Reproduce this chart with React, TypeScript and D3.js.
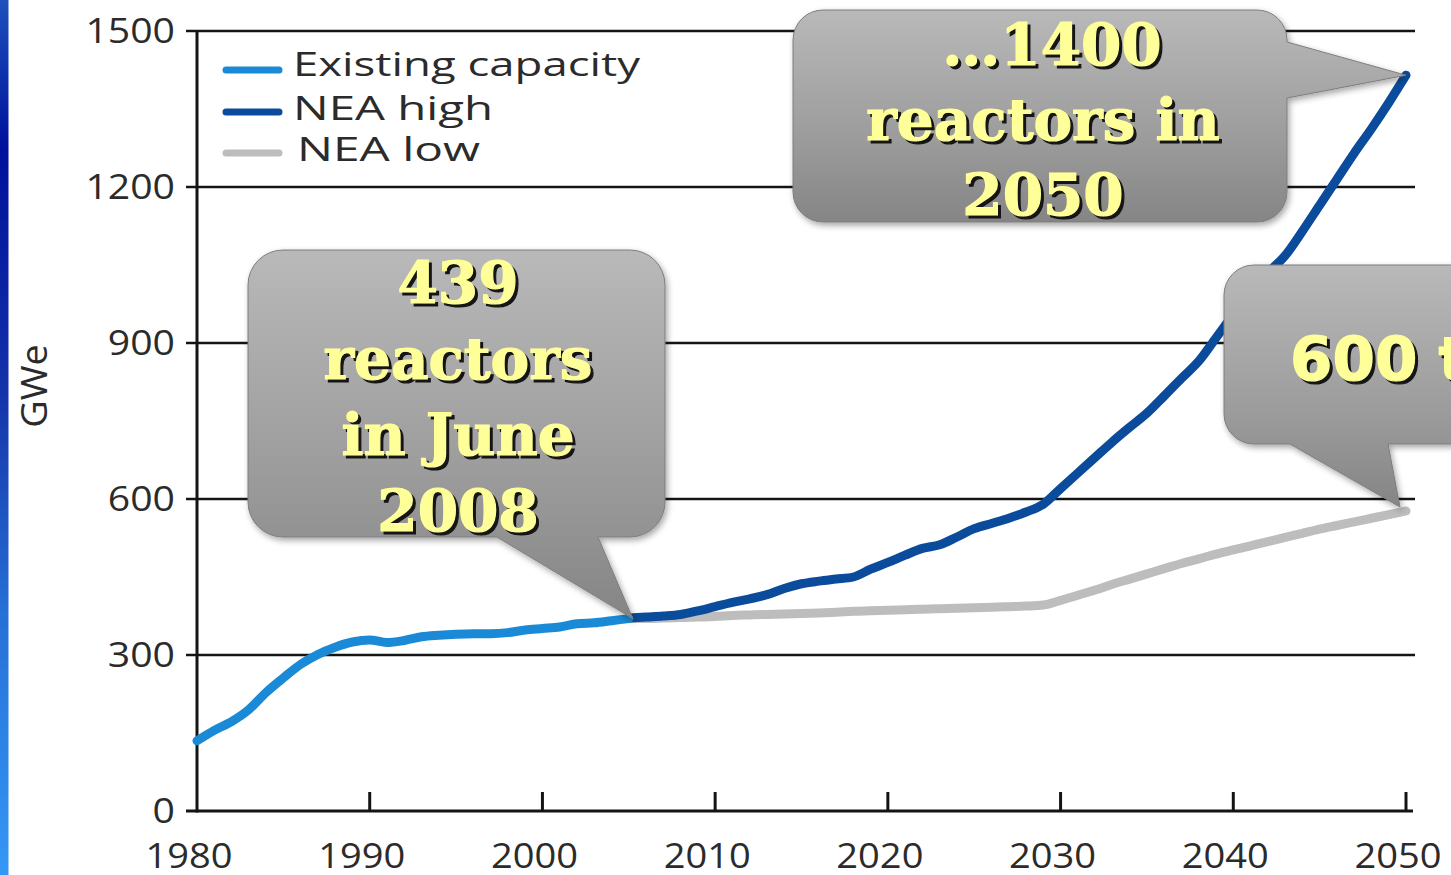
import React from 'react';
import * as d3 from 'd3';

const existingYears = [1980,1981,1982,1983,1984,1985,1986,1987,1988,1989,1990,1991,1992,1993,1994,1995,1996,1997,1998,1999,2000,2001,2002,2003,2004,2005];
const existingValues = [135,155,172,195,228,256,282,301,315,325,329,324,328,335,338,340,341,341,343,348,351,354,360,362,366,370];

const projYears = [2005,2006,2007,2008,2009,2010,2011,2012,2013,2014,2015,2016,2017,2018,2019,2020,2021,2022,2023,2024,2025,2026,2027,2028,2029,2030,2031,2032,2033,2034,2035,2036,2037,2038,2039,2040,2041,2042,2043,2044,2045,2046,2047,2048,2049,2050];
const neaHighValues = [371,373,375,378,385,393,401,408,416,428,437,442,446,450,465,478,492,505,512,527,543,553,563,575,590,620,650,680,710,738,765,798,832,865,910,955,1000,1035,1068,1115,1165,1215,1265,1312,1362,1415];
const neaLowValues = [370,370,371,372,373,374,376,377,378,379,380,381,382,384,385,386,387,388,389,390,391,392,393,394,396,405,415,425,436,446,456,466,476,485,494,502,510,518,526,534,542,549,556,563,570,577];

const xTickValues = [1980,1990,2000,2010,2020,2030,2040,2050];
const yTickValues = [0,300,600,900,1200,1500];
const legendNames = ['Existing capacity','NEA high','NEA low'];
const yAxisTitle = 'GWe';
const callout1Lines = ['439','reactors','in June','2008'];
const callout2Lines = ['\u20261400','reactors in','2050'];
const callout3Lines = ['600 to 1400'];

const COLORS = { existing: '#1b8ad6', high: '#0a4b9b', low: '#bdbdbd' };

function calloutPath(x0: number, y0: number, x1: number, y1: number, r: number, side: 'bottom' | 'right', a: number, b: number, tip: [number, number]) {
  const p = d3.path();
  p.moveTo(x0 + r, y0);
  p.lineTo(x1 - r, y0);
  p.arcTo(x1, y0, x1, y0 + r, r);
  if (side === 'right') {
    p.lineTo(x1, a);
    p.lineTo(tip[0], tip[1]);
    p.lineTo(x1, b);
  }
  p.lineTo(x1, y1 - r);
  p.arcTo(x1, y1, x1 - r, y1, r);
  if (side === 'bottom') {
    p.lineTo(b, y1);
    p.lineTo(tip[0], tip[1]);
    p.lineTo(a, y1);
  }
  p.lineTo(x0 + r, y1);
  p.arcTo(x0, y1, x0, y1 - r, r);
  p.lineTo(x0, y0 + r);
  p.arcTo(x0, y0, x0 + r, y0, r);
  p.closePath();
  return p.toString();
}

function ShadowText({ x, y, size, family, children, anchor = 'middle' }: any) {
  return (
    <g fontFamily={family} fontWeight="bold" fontSize={size} textAnchor={anchor}>
      <text x={x + 3} y={y + 3} fill="#151515" stroke="#151515" strokeWidth={1.2}>{children}</text>
      <text x={x} y={y} fill="#ffff99" stroke="#ffff99" strokeWidth={1.2}>{children}</text>
    </g>
  );
}

export default function App() {
  const W = 1451, H = 875;
  const x = d3.scaleLinear().domain([1980, 2050]).range([197, 1406]);
  const y = d3.scaleLinear().domain([0, 1500]).range([811, 31]);

  const line = d3.line<[number, number]>().x(d => x(d[0])).y(d => y(d[1])).curve(d3.curveMonotoneX);
  const existingPts = existingYears.map((yr, i) => [yr, existingValues[i]] as [number, number]);
  const highPts = projYears.map((yr, i) => [yr, neaHighValues[i]] as [number, number]);
  const lowPts = projYears.map((yr, i) => [yr, neaLowValues[i]] as [number, number]);

  const tip1: [number, number] = [x(existingYears[existingYears.length - 1]) + 4, y(existingValues[existingValues.length - 1])];
  const tip2: [number, number] = [x(projYears[projYears.length - 1]), y(neaHighValues[neaHighValues.length - 1])];
  const tip3: [number, number] = [x(projYears[projYears.length - 1]) - 6, y(neaLowValues[neaLowValues.length - 1]) - 4];

  const axisFont = '"Open Sans", "DejaVu Sans", sans-serif';
  const serif = '"DejaVu Serif", serif';

  const legendY = [70, 112, 153];
  const legendColors = [COLORS.existing, COLORS.high, COLORS.low];
  const legendTextLen = [347, 200, 183];
  const legendTextX = [293, 293, 297];

  return (
    <svg width={W} height={H} style={{ position: 'absolute', left: 0, top: 0, background: '#ffffff' }}>
      <defs>
        <linearGradient id="strip" x1="0" y1="0" x2="0" y2="1">
          <stop offset="0" stopColor="#1d52bd" />
          <stop offset="0.17" stopColor="#00109b" />
          <stop offset="0.45" stopColor="#1433aa" />
          <stop offset="0.7" stopColor="#2670d8" />
          <stop offset="1" stopColor="#3497f7" />
        </linearGradient>
        <linearGradient id="bubble" x1="0" y1="0" x2="0" y2="1">
          <stop offset="0" stopColor="#b9b9b9" />
          <stop offset="0.6" stopColor="#9c9c9c" />
          <stop offset="1" stopColor="#858585" />
        </linearGradient>
        <filter id="shadow" x="-10%" y="-10%" width="130%" height="130%">
          <feDropShadow dx="2" dy="3" stdDeviation="3" floodColor="#000" floodOpacity="0.35" />
        </filter>
      </defs>
      <rect x={0} y={0} width={W} height={H} fill="#ffffff" />
      <rect x={0} y={0} width={8.5} height={H} fill="url(#strip)" />

      {/* gridlines */}
      {yTickValues.map(v => (
        <line key={v} x1={186} x2={v === 0 ? 1413 : 1415} y1={y(v)} y2={y(v)} stroke="#141414" strokeWidth={v === 0 ? 3 : 2.5} />
      ))}
      <line x1={x(1980)} x2={x(1980)} y1={y(1500) - 1} y2={y(0) + 1.5} stroke="#141414" strokeWidth={3} />
      {xTickValues.slice(1).map(t => (
        <line key={t} x1={x(t)} x2={x(t)} y1={y(0)} y2={y(0) - 19} stroke="#141414" strokeWidth={3} />
      ))}

      {/* y labels */}
      {yTickValues.map(v => (
        <text key={v} transform={`translate(175,${y(v) + 12}) scale(1.12,1)`} textAnchor="end" fontFamily={axisFont} fontSize={35} fill="#2b2b2b">{v}</text>
      ))}
      {/* x labels */}
      {xTickValues.map(t => (
        <text key={t} transform={`translate(${x(t) - 8},868) scale(1.12,1)`} textAnchor="middle" fontFamily={axisFont} fontSize={34} fill="#2b2b2b">{t}</text>
      ))}
      <text transform="translate(47,386) rotate(-90) scale(1.05,1)" textAnchor="middle" fontFamily={axisFont} fontSize={36} fill="#2b2b2b">{yAxisTitle}</text>

      {/* legend */}
      {legendNames.map((n, i) => (
        <g key={n}>
          <line x1={226} x2={279} y1={legendY[i]} y2={legendY[i]} stroke={legendColors[i]} strokeWidth={7} strokeLinecap="round" />
          <text x={legendTextX[i]} y={legendY[i] + 6 + (i === 0 ? 0 : 2)} fontFamily={axisFont} fontSize={33} fill="#2b2b2b" textLength={legendTextLen[i]} lengthAdjust="spacingAndGlyphs">{n}</text>
        </g>
      ))}

      {/* series */}
      <path d={line(lowPts) || ''} fill="none" stroke={COLORS.low} strokeWidth={9} strokeLinejoin="round" strokeLinecap="round" />
      <path d={line(highPts) || ''} fill="none" stroke={COLORS.high} strokeWidth={9} strokeLinejoin="round" strokeLinecap="round" />
      <path d={line(existingPts) || ''} fill="none" stroke={COLORS.existing} strokeWidth={9} strokeLinejoin="round" strokeLinecap="round" />

      {/* callouts */}
      <path d={calloutPath(248, 250, 665, 537, 35, 'bottom', 497, 598, tip1)} fill="url(#bubble)" stroke="#7d7d7d" strokeWidth={1} filter="url(#shadow)" />
      {callout1Lines.map((t, i) => (
        <ShadowText key={t} x={458} y={303 + i * 76} size={58} family={serif}>{t}</ShadowText>
      ))}

      <path d={calloutPath(793, 10, 1287, 222, 30, 'right', 42, 98, tip2)} fill="url(#bubble)" stroke="#7d7d7d" strokeWidth={1} filter="url(#shadow)" />
      {callout2Lines.map((t, i) => (
        <ShadowText key={t} x={i === 0 ? 1052 : 1043} y={65 + i * 75} size={58} family={serif}>{t}</ShadowText>
      ))}

      <path d={calloutPath(1224, 265, 1490, 444, 30, 'bottom', 1290, 1388, tip3)} fill="url(#bubble)" stroke="#7d7d7d" strokeWidth={1} filter="url(#shadow)" />
      {callout3Lines.map((t, i) => (
        <ShadowText key={t} x={1290} y={380 + i * 75} size={61} family={'"DejaVu Sans", sans-serif'} anchor="start">{t}</ShadowText>
      ))}
    </svg>
  );
}
